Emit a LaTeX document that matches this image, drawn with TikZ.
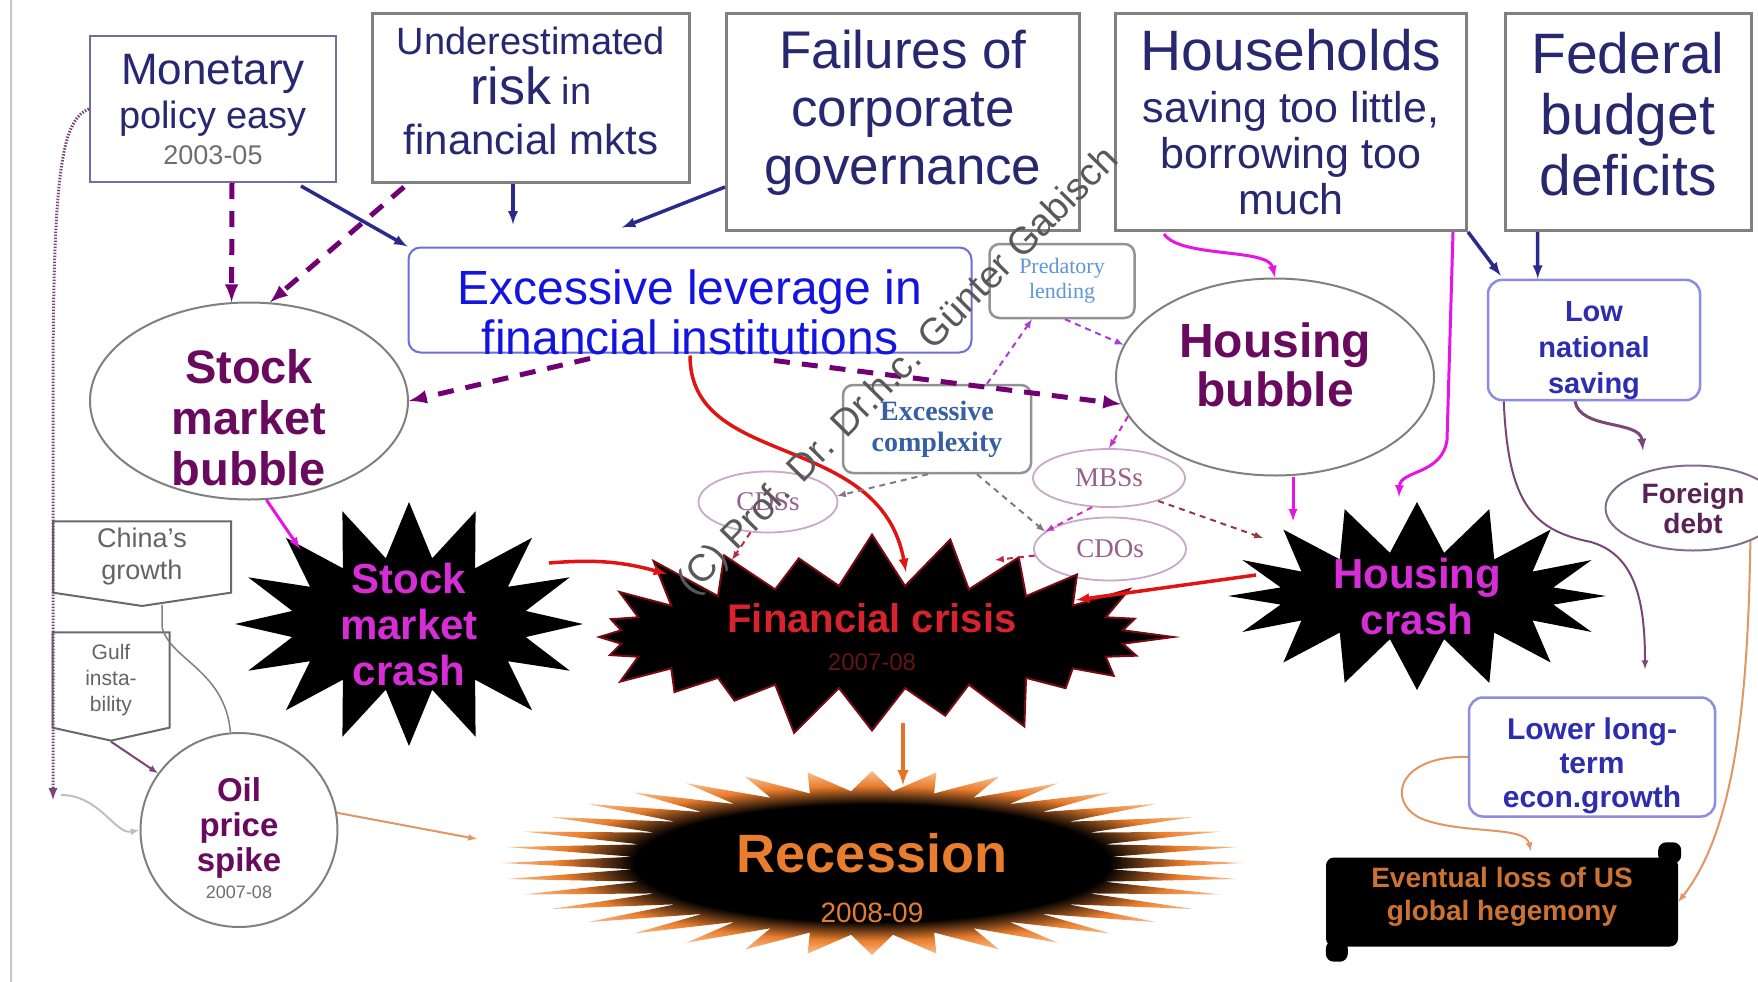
\documentclass[tikz,border=0pt]{standalone}
\usepackage{fontspec}
\setmainfont{Liberation Sans}
\newfontfamily\timesfont{Liberation Serif}
\usetikzlibrary{arrows,calc,shapes.geometric,shapes.symbols}

\definecolor{inknavy}{RGB}{40,40,112}
\definecolor{boxgray}{RGB}{128,128,128}
\definecolor{monedge}{RGB}{112,112,160}
\definecolor{yeargray}{RGB}{110,110,110}
\definecolor{levedge}{RGB}{110,110,215}
\definecolor{levblue}{RGB}{20,20,225}
\definecolor{bubpurple}{RGB}{105,10,95}
\definecolor{crashpink}{RGB}{215,45,215}
\definecolor{crisisred}{RGB}{215,35,45}
\definecolor{crisisyear}{RGB}{100,20,20}
\definecolor{recorange}{RGB}{232,125,45}
\definecolor{glowtip}{RGB}{250,190,140}
\definecolor{savedge}{RGB}{140,140,225}
\definecolor{savblue}{RGB}{45,45,175}
\definecolor{lossorange}{RGB}{205,115,50}
\definecolor{debtpurple}{RGB}{90,35,85}
\definecolor{debtedge}{RGB}{130,110,140}
\definecolor{predblue}{RGB}{95,150,215}
\definecolor{cplxblue}{RGB}{55,95,165}
\definecolor{miniedge}{RGB}{200,170,200}
\definecolor{minitext}{RGB}{150,95,140}
\definecolor{arrnavy}{RGB}{42,42,140}
\definecolor{arrpurple}{RGB}{115,0,115}
\definecolor{arrpink}{RGB}{230,20,230}
\definecolor{arrred}{RGB}{225,20,20}
\definecolor{arrorange}{RGB}{230,115,35}
\definecolor{lineorange}{RGB}{225,150,100}
\definecolor{linepurple}{RGB}{120,70,120}
\definecolor{dashlilac}{RGB}{170,60,210}
\definecolor{dashgray}{RGB}{140,115,140}
\definecolor{dashred}{RGB}{190,40,70}
\definecolor{sigedge}{RGB}{105,105,105}
\definecolor{siggray}{RGB}{100,100,100}
\definecolor{fcedge}{RGB}{120,10,20}

\pgfdeclareradialshading{recglow}{\pgfpoint{0bp}{0bp}}{color(0bp)=(black); color(16bp)=(black); color(21bp)=(recorange); color(25bp)=(glowtip); color(50bp)=(glowtip)}

\tikzset{>=latex}
\tikzset{
  topbox/.style={draw=boxgray, line width=3pt, fill=white, inner sep=0pt, align=center, text=inknavy},
  monbox/.style={topbox, draw=monedge, line width=2pt},
  levbox/.style={draw=levedge, line width=2pt, rounded corners=12pt, fill=white, inner sep=0pt, align=center, text=levblue},
  notebox/.style={draw=boxgray!85, line width=2.5pt, rounded corners=10pt, fill=white, inner sep=0pt, align=center},
  savbox/.style={draw=savedge, line width=2.5pt, rounded corners=14pt, fill=white, inner sep=0pt, align=center, text=savblue},
  lossbox/.style={fill=black, rounded corners=8pt, inner sep=0pt, align=center, text=lossorange},
  bubble/.style={ellipse, draw=boxgray, line width=2pt, fill=white, inner sep=-12pt, align=center, text=bubpurple},
  secu/.style={ellipse, draw=miniedge, line width=1.8pt, fill=white, inner sep=0pt, text=minitext, font=\timesfont\fontsize{27}{29}\selectfont},
  tagbox/.style={signal, signal to=south, draw=sigedge, line width=2pt, fill=white, inner sep=0pt, align=center, text=siggray},
  crash/.style={starburst, fill=black, inner sep=0pt},
  crashtxt/.style={align=center, text=crashpink, font=\bfseries\fontsize{42}{46}\selectfont},
  navyarr/.style={->, draw=arrnavy, line width=3.5pt},
  bubarr/.style={->, draw=arrpurple, line width=5pt, dash pattern=on 16pt off 12pt},
  pinkarr/.style={->, draw=arrpink, line width=3pt},
  redarr/.style={->, draw=arrred, line width=3.5pt},
  recarr/.style={->, draw=arrorange, line width=4pt},
  feedarr/.style={->, draw=lineorange, line width=2pt},
  slowarr/.style={->, draw=linepurple, line width=2pt},
  secarr/.style={->, line width=2pt, dash pattern=on 6pt off 5pt},
}

\begin{document}
\begin{tikzpicture}[x=1pt,y=-1pt]
  % Frame
  \fill[white] (0,0) rectangle (1758,982);
  \useasboundingbox (0,0) rectangle (1758,982);
  \draw[gray!45, line width=2pt] (11,0) -- (11,982);

  % Causes
  \node[monbox, minimum width=246pt, minimum height=146pt, font=\fontsize{38}{44}\selectfont] (mon) at (213,109)
    {{\fontsize{44}{44}\selectfont Monetary}\\policy easy\\[-8pt]{\fontsize{27}{30}\selectfont\color{yeargray}2003-05}};
  \node[topbox, minimum width=317pt, minimum height=169pt, font=\fontsize{38}{50}\selectfont] (under) at (531,98)
    {Underestimated\\{\fontsize{52}{50}\selectfont risk} in\\{\fontsize{42}{50}\selectfont financial mkts}\\[-36pt]{}};
  \node[topbox, minimum width=353pt, minimum height=217pt, font=\fontsize{53}{58}\selectfont] (fail) at (903,122)
    {Failures of\\corporate\\governance\\[-28pt]{}};
  \node[topbox, minimum width=351pt, minimum height=217pt, font=\fontsize{43}{46}\selectfont] (house) at (1291,122)
    {{\fontsize{57}{46}\selectfont Households}\\[6pt]saving too little,\\borrowing too\\much};
  \node[topbox, minimum width=246pt, minimum height=217pt, font=\fontsize{57}{61}\selectfont] (fed) at (1628,122)
    {Federal\\budget\\deficits\\[-45pt]{}};

  % Middle row
  \node[levbox, inner ysep=-12pt, minimum width=563pt, minimum height=105pt, font=\fontsize{48}{50}\selectfont] (lev) at (690,300)
    {{}\\[10pt]Excessive leverage in\\financial institutions};
  \node[notebox, minimum width=145pt, minimum height=74pt, text=predblue, font=\timesfont\fontsize{22}{25}\selectfont] (pred) at (1062,281)
    {Predatory\\lending};
  \node[notebox, minimum width=188pt, minimum height=88pt, text=cplxblue, font=\timesfont\bfseries\fontsize{28}{31}\selectfont] (cplx) at (937,429)
    {Excessive\\complexity};
  \node[savbox, minimum width=212pt, minimum height=120pt, font=\bfseries\fontsize{29}{36}\selectfont] (lowsav) at (1594,340)
    {{}\\[6pt]Low\\national\\saving};
  \node[bubble, inner sep=-20pt, minimum width=318pt, minimum height=197pt, font=\bfseries\fontsize{47}{51}\selectfont] (smb) at (249,401)
    {{}\\[16pt]Stock\\market\\bubble};
  \node[bubble, minimum width=318pt, minimum height=197pt, font=\bfseries\fontsize{48}{49}\selectfont] (hb) at (1275,377)
    {Housing\\bubble\\[-24pt]{}};
  \node[secu, minimum width=139pt, minimum height=61pt] (cds) at (768,502) {CDSs};
  \node[secu, minimum width=152pt, minimum height=58pt] (mbs) at (1109,478) {MBSs};
  \node[secu, minimum width=152pt, minimum height=63pt] (cdo) at (1110,549) {CDOs};
  \node[ellipse, draw=debtedge, line width=2pt, fill=white, inner sep=0pt, minimum width=175pt, minimum height=85pt,
    align=center, text=debtpurple, font=\bfseries\fontsize{28}{30}\selectfont] (fdebt) at (1693,508) {Foreign\\debt};

  % Left side
  \node[tagbox, signal pointer angle=163, minimum width=178pt, minimum height=78pt, font=\fontsize{27}{32}\selectfont] (china) at (142,557)
    {China's\\growth};
  \node[tagbox, signal pointer angle=155, minimum width=117pt, minimum height=101pt, font=\fontsize{21}{26}\selectfont] (gulf) at (111,680)
    {Gulf\\insta-\\bility};
  \node[bubble, inner sep=0pt, minimum width=197pt, minimum height=184pt, font=\bfseries\fontsize{33}{35}\selectfont] (oil) at (239,830)
    {{}\\[5pt]Oil\\price\\spike\\[-8pt]{\fontsize{18}{20}\selectfont\mdseries\color{yeargray}2007-08}};
  \coordinate (dotend) at (53,800);

  % Crashes
  \node[crash, starburst points=16, starburst point height=55pt, random starburst=0, minimum width=348pt, minimum height=244pt,
    label={[crashtxt]center:Stock\\market\\crash}] (smc) at (409,624) {};
  \node[crash, starburst points=16, starburst point height=50pt, random starburst=0, minimum width=378pt, minimum height=188pt,
    label={[crashtxt]center:Housing\\crash}] (hc) at (1417,596) {};
  \node[crash, starburst points=24, starburst point height=58pt, random starburst=17, draw=fcedge, line width=2pt,
    minimum width=622pt, minimum height=219pt,
    label={[align=center, font=\fontsize{24}{38}\selectfont]center:{{\color{crisisred}\bfseries\fontsize{40}{40}\selectfont Financial crisis}\\{\color{crisisyear}2007-08}}}] (fc) at (872,637) {};

  % Recession
  \shade[shading=recglow] plot[samples=73, domain=0:72, variable=\k]
    ({872+cos(5*\k)*(mod(round(\k),2)==0 ? 371 : 240)}, {863+sin(5*\k)*(mod(round(\k),2)==0 ? 92 : 72)}) -- cycle;
  \node[align=center, text=recorange, font=\bfseries\fontsize{54}{50}\selectfont] (rec) at (872,878)
    {Recession\\{\mdseries\fontsize{28}{30}\selectfont 2008-09}};

  % Long run
  \node[savbox, minimum width=246pt, minimum height=119pt, font=\bfseries\fontsize{30}{34}\selectfont] (lowgr) at (1592,757)
    {{}\\[6pt]Lower long-\\term\\econ.growth};
  \node[lossbox, minimum width=352pt, minimum height=89pt, font=\bfseries\fontsize{28}{33}\selectfont] (loss) at (1502,902)
    {Eventual loss of US\\global hegemony\\[-16pt]{}};
  \fill[rounded corners=8pt] ($(loss.north east)+(-20,6)$) rectangle ($(loss.north east)+(3,-15)$);
  \fill[rounded corners=8pt] ($(loss.south west)+(0,-6)$) rectangle ($(loss.south west)+(22,15)$);

  % Arrows into leverage and stock bubble
  \draw[bubarr] ($(mon.south)+(19,0)$) -- (smb.100);
  \draw[bubarr] ($(under.south west)+(33,3)$) -- (smb.78);
  \draw[navyarr] ($(mon.south east)+(-36,3)$) -- (lev.north west);
  \draw[navyarr] ($(under.south)+(-18,0)$) -- ($(lev.north)+(-177,-22)$);
  \draw[navyarr] ($(fail.south west)+(0,-45)$) -- ($(lev.north)+(-68,-19)$);

  % Arrows out of leverage
  \draw[bubarr] ($(lev.south)+(-100,5)$) -- (smb.east);
  \draw[bubarr] ($(lev.south)+(84,7)$) -- (hb.190);
  \draw[redarr] ($(lev.south)+(0,2)$) .. controls (690,470) and (880,430) .. ($(fc.center)+(34,-65)$);

  % Housing
  \draw[pinkarr] ($(house.south west)+(50,2)$) .. controls (1180,258) and (1268,248) .. (hb.north);
  \draw[pinkarr] ($(house.south east)+(-15,0)$) -- (1447,440) .. controls (1442,475) and (1400,470) .. ($(hc.center)+(-18,-99)$);
  \draw[pinkarr] ($(hb.south)+(18,0)$) -- ($(hc.center)+(-124,-75)$);
  \draw[pinkarr] (smb.280) -- ($(smc.center)+(-109,-75)$);

  % Securities
  \draw[secarr, draw=dashlilac] ($(cplx.north)+(50,0)$) -- ($(pred.south)+(-30,0)$);
  \draw[secarr, draw=dashlilac] ($(pred.south)+(3,0)$) -- (hb.168);
  \draw[secarr, draw=arrpink!70!minitext] (hb.195) -- (mbs.north);
  \draw[secarr, draw=arrpink!60!minitext] (mbs.240) -- (cdo.165);
  \draw[secarr, draw=dashgray] ($(cplx.south)+(40,0)$) -- (cdo.165);
  \draw[secarr, draw=dashgray] ($(cplx.south)+(-9,0)$) -- (cds.5);
  \draw[secarr, draw=dashred] (cdo.185) -- ($(fc.center)+(123,-77)$);
  \draw[secarr, draw=dashred] (cds.240) -- ($(fc.center)+(-140,-77)$);
  \draw[secarr, draw=fcedge!80] (mbs.-25) -- ($(hc.center)+(-154,-58)$);

  % Crises
  \draw[redarr] ($(smc.center)+(140,-61)$) to[bend left=10] ($(fc.center)+(-205,-63)$);
  \draw[redarr] ($(hc.center)+(-161,-21)$) -- ($(fc.center)+(204,-37)$);
  \draw[recarr] ($(fc.center)+(31,86)$) -- ($(rec.center)+(31,-93)$);
  \draw[feedarr] (oil.10) -- ($(rec.center)+(-395,-39)$);

  % Oil
  \draw[slowarr, line width=3pt, dash pattern=on 1.5pt off 1.5pt] (mon.west) .. controls (60,120) and (53,180) .. (53,400) -- (dotend);
  \draw[->, draw=gray!50, line width=2pt] ($(dotend)+(8,-5)$) .. controls (100,795) and (115,835) .. (oil.west);
  \draw[draw=gray, line width=1.5pt] ($(china.south)+(20,-2)$) -- (162,627) .. controls (170,660) and (225,670) .. (oil.95);
  \draw[slowarr] (gulf.south) -- (oil.145);

  % National saving
  \draw[navyarr] (house.south east) -- ($(lowsav.north west)+(14,-3)$);
  \draw[navyarr] ($(fed.south west)+(34,0)$) -- ($(lowsav.north west)+(51,0)$);
  \draw[slowarr, line width=3pt] ($(lowsav.south)+(-19,0)$) .. controls (1580,430) and (1640,420) .. ($(fdebt.north)+(-50,-14)$);
  \draw[slowarr] ($(lowsav.south west)+(17,0)$) .. controls (1508,500) and (1530,530) .. (1591,542)
    .. controls (1635,555) and (1645,600) .. ($(lowgr.north)+(53,-27)$);
  \draw[feedarr] (fdebt.-30) .. controls (1748,700) and (1735,830) .. (loss.east);
  \draw[feedarr] (lowgr.west) .. controls (1400,755) and (1385,800) .. (1420,818)
    .. controls (1460,835) and (1525,825) .. ($(loss.north)+(29,-6)$);

  % Mark
  \node[rotate=45.5, text=black!65, font=\fontsize{38}{40}\selectfont] (mark) at (899,372) {(C) Prof. Dr. Dr.h.c. Günter Gabisch};
\end{tikzpicture}
\end{document}
